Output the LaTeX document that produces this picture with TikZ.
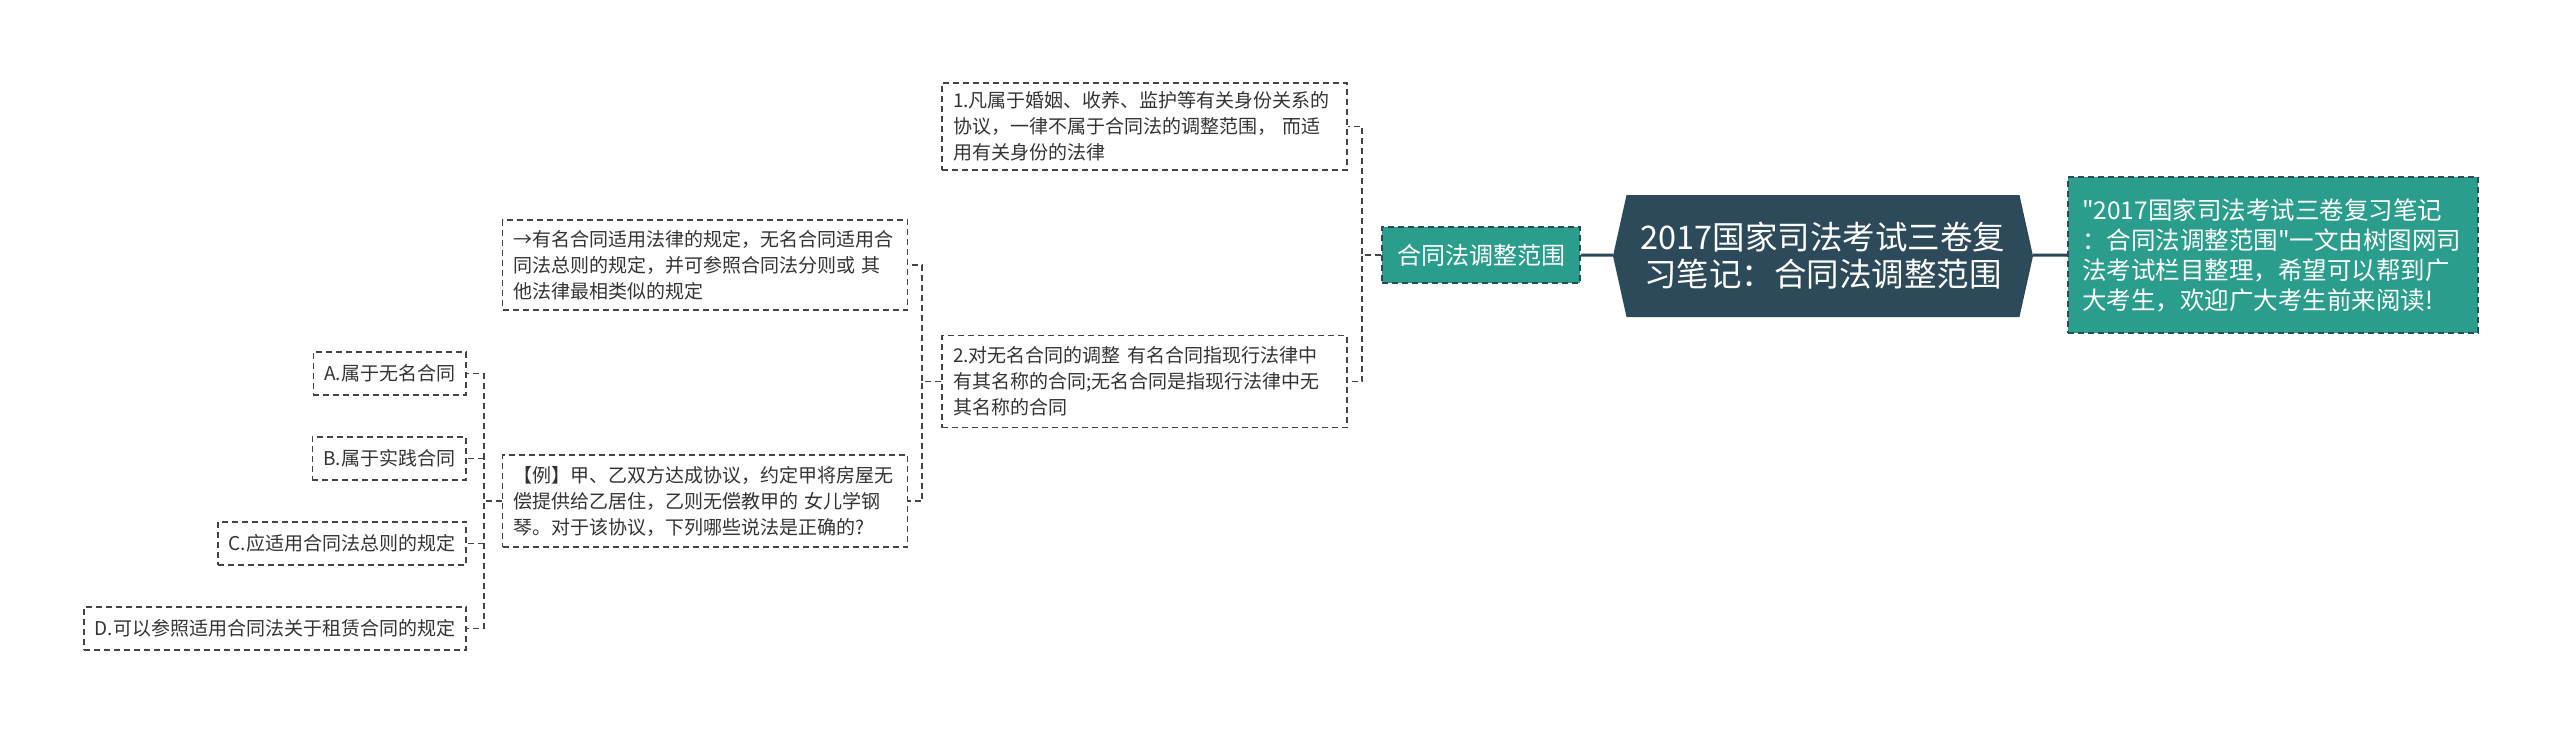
\documentclass[tikz,border=0pt]{standalone}
\usepackage{fontspec}
\newfontfamily\cjk{Noto Sans CJK SC}
\usetikzlibrary{shapes.symbols}
\definecolor{rootc}{HTML}{2C4A5A}
\definecolor{tealc}{HTML}{2A9D8C}
\definecolor{linec}{HTML}{444444}
\definecolor{txtc}{HTML}{333333}
\begin{document}
\begin{tikzpicture}[x=1pt,y=-1pt,
  leaf/.style={draw=linec, line width=1.6pt, dash pattern=on 6pt off 4pt, text=txtc,
    font=\cjk\fontsize{19}{26}\selectfont, inner xsep=11pt, inner ysep=0pt,
    minimum height=43pt, align=left},
  bigleaf/.style={leaf, text width=383pt},
  tealbox/.style={draw=rootc, fill=tealc, line width=1.6pt, dash pattern=on 6pt off 4pt,
    text=white, inner ysep=0pt, align=left},
  rootbox/.style={signal, signal to=west and east, signal pointer angle=155,
    fill=rootc, text=white, inner sep=0pt, minimum width=420pt, minimum height=122pt,
    font=\cjk\fontsize{32.5}{37}\selectfont, align=center},
  conn/.style={draw=linec, line width=1.6pt, dash pattern=on 6pt off 4pt},
  rconn/.style={draw=rootc, line width=3pt}
]
\useasboundingbox (0,0) rectangle (2560,733);

\node[rootbox] (root) at (1823,256) {2017国家司法考试三卷复\\习笔记：合同法调整范围};

\node[tealbox, font=\cjk\fontsize{24.5}{30}\selectfont, inner xsep=14pt,
  text width=382pt, minimum height=156pt] (info) at (2273,255)
  {"2017国家司法考试三卷复习笔记\\：合同法调整范围"一文由树图网司\\法考试栏目整理，希望可以帮到广\\大考生，欢迎广大考生前来阅读!};

\node[tealbox, font=\cjk\fontsize{24}{28}\selectfont, minimum width=198pt,
  minimum height=56pt, inner xsep=0pt, align=center] (scope) at (1481,255) {合同法调整范围};

\node[bigleaf, minimum height=87pt] (n1) at (1144.5,126.5)
  {1.凡属于婚姻、收养、监护等有关身份关系的\\协议，一律不属于合同法的调整范围， 而适\\用有关身份的法律};
\node[bigleaf, minimum height=92pt] (n2) at (1144.5,381.5)
  {2.对无名合同的调整 有名合同指现行法律中\\有其名称的合同;无名合同是指现行法律中无\\其名称的合同};
\node[bigleaf, minimum height=90pt] (n3) at (705,265)
  {→有名合同适用法律的规定，无名合同适用合\\同法总则的规定，并可参照合同法分则或 其\\他法律最相类似的规定};
\node[bigleaf, minimum height=92pt] (n4) at (705,501)
  {【例】甲、乙双方达成协议，约定甲将房屋无\\偿提供给乙居住，乙则无偿教甲的 女儿学钢\\琴。对于该协议，下列哪些说法是正确的?};

\node[leaf, anchor=east] (oa) at (467,373.5) {A.属于无名合同};
\node[leaf, anchor=east] (ob) at (467,458.5) {B.属于实践合同};
\node[leaf, anchor=east] (oc) at (467,543.5) {C.应适用合同法总则的规定};
\node[leaf, anchor=east] (od) at (467,628.5) {D.可以参照适用合同法关于租赁合同的规定};

\draw[rconn] (scope.east) -- (root);
\draw[rconn] (root) -- (info.west);

\draw[conn] (scope.west) -- ++(-19,0) |- (n1.east);
\draw[conn] (scope.west) -- ++(-19,0) |- (n2.east);
\draw[conn] (n2.west) -- ++(-19,0) |- (n3.east);
\draw[conn] (n2.west) -- ++(-19,0) |- (n4.east);
\draw[conn] (n4.west) -- ++(-18,0) |- (oa.east);
\draw[conn] (n4.west) -- ++(-18,0) |- (ob.east);
\draw[conn] (n4.west) -- ++(-18,0) |- (oc.east);
\draw[conn] (n4.west) -- ++(-18,0) |- (od.east);
\end{tikzpicture}
\end{document}
